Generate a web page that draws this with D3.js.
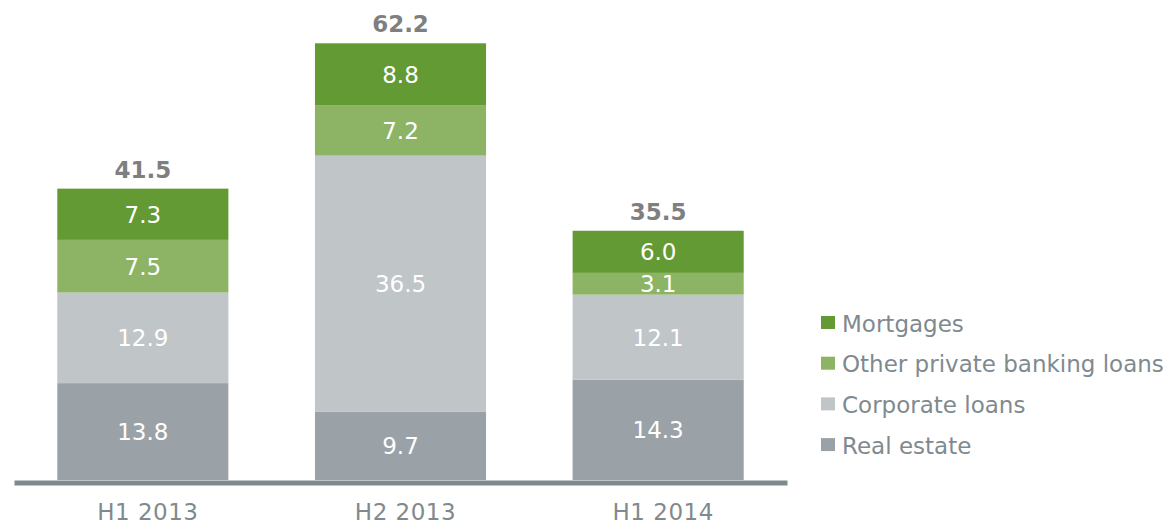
<!DOCTYPE html>
<html lang="en">
<head>
	<meta charset="UTF-8">
	<title>Loans</title>
	<script src="https://cdn.jsdelivr.net/npm/d3@7"></script>
	<style>
		html,body{margin:0;padding:0;background:#fff;}
		svg{display:block;font-family:"DejaVu Sans",Verdana,sans-serif;}
	</style>
</head>
<body>
	<svg id="chart" width="1166" height="525"></svg>
	<script>
		// data
		var periods = ["H1 2013", "H2 2013", "H1 2014"];
		var series = ["Real estate", "Corporate loans", "Other private banking loans", "Mortgages"];
		var realEstate = [13.8, 9.7, 14.3];
		var corporate = [12.9, 36.5, 12.1];
		var otherPrivate = [7.5, 7.2, 3.1];
		var mortgages = [7.3, 8.8, 6.0];
		var totals = [41.5, 62.2, 35.5];
		var colors = ["#9aa2a8", "#c0c5c8", "#8db464", "#639a33"];

		var rows = periods.map(function(p, i){
			return {
				period: p,
				"Real estate": realEstate[i],
				"Corporate loans": corporate[i],
				"Other private banking loans": otherPrivate[i],
				"Mortgages": mortgages[i],
				total: totals[i]
			};
		});

		var svg = d3.select("#chart");
		var baseY = 480;

		var x = d3.scaleBand()
			.domain(periods)
			.range([14, 787])
			.paddingInner(0.336)
			.paddingOuter(0.168);
		var y = d3.scaleLinear()
			.domain([0, 62.2])
			.range([baseY, 43.3]);
		var color = d3.scaleOrdinal().domain(series).range(colors);

		var stacked = d3.stack().keys(series)(rows);

		var layer = svg.selectAll("g.layer")
			.data(stacked)
			.enter().append("g")
			.attr("class", "layer")
			.attr("fill", function(d){ return color(d.key); });

		layer.selectAll("rect")
			.data(function(d){ return d; })
			.enter().append("rect")
			.attr("x", function(d){ return x(d.data.period); })
			.attr("width", x.bandwidth())
			.attr("y", function(d){ return y(d[1]); })
			.attr("height", function(d){ return y(d[0]) - y(d[1]); });

		layer.selectAll("text")
			.data(function(d){ return d; })
			.enter().append("text")
			.attr("x", function(d){ return x(d.data.period) + x.bandwidth()/2; })
			.attr("y", function(d){ return (y(d[0]) + y(d[1]))/2 + 8.4; })
			.attr("text-anchor", "middle")
			.attr("fill", "#fff")
			.style("font-size", "23px")
			.text(function(d){ return (d[1] - d[0]).toFixed(1); });

		// totals
		svg.selectAll("text.total")
			.data(rows)
			.enter().append("text")
			.attr("class", "total")
			.attr("x", function(d){ return x(d.period) + x.bandwidth()/2; })
			.attr("y", function(d){ return y(d.total) - 11; })
			.attr("text-anchor", "middle")
			.attr("fill", "#7f7f7f")
			.style("font-size", "23px")
			.style("font-weight", "bold")
			.text(function(d){ return d.total.toFixed(1); });

		// x axis
		var xAxis = svg.append("g")
			.attr("transform", "translate(0," + (baseY + 2.5) + ")")
			.call(d3.axisBottom(x).tickSize(0).tickPadding(0));
		xAxis.select(".domain")
			.attr("stroke", "#7f8a8f")
			.attr("stroke-width", 5);
		xAxis.selectAll("text")
			.attr("y", 37)
			.attr("dy", null)
			.attr("dx", 5)
			.attr("fill", "#7f8a8f")
			.style("font-size", "23px")
			.style("letter-spacing", "0.5px")
			.style("font-family", "'DejaVu Sans',Verdana,sans-serif");

		// legend
		var legend = svg.selectAll("g.legend")
			.data(series.slice().reverse())
			.enter().append("g")
			.attr("class", "legend")
			.attr("transform", function(d, i){ return "translate(821," + (316 + i*40.7) + ")"; });
		legend.append("rect")
			.attr("width", 14)
			.attr("height", 13)
			.attr("fill", function(d){ return color(d); });
		legend.append("text")
			.attr("x", 21)
			.attr("y", 15.5)
			.attr("fill", "#7f8a8f")
			.style("font-size", "23px")
			.text(function(d){ return d; });
	</script>
</body>
</html>
